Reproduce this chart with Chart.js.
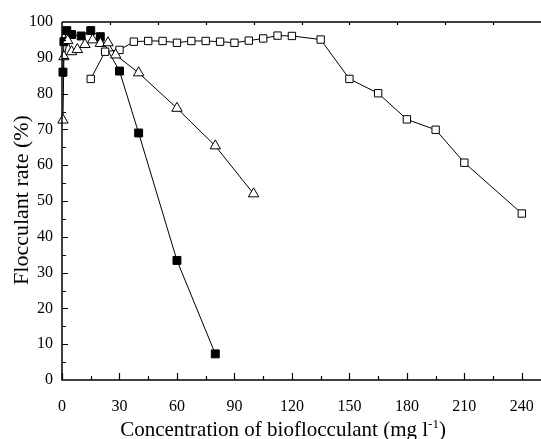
<!DOCTYPE html>
<html>
<head>
<meta charset="utf-8">
<script src="https://cdn.jsdelivr.net/npm/chart.js@4/dist/chart.umd.min.js"></script>
<style>
  html, body { margin: 0; padding: 0; background: #fff; }
  #wrap { width: 541px; height: 439px; }
</style>
</head>
<body>
<div id="wrap"><canvas id="chart"></canvas></div>
<script>
const xFilled = [0.5, 1, 2.5, 5, 10, 15, 20, 30, 40, 60, 80];
const yFilled = [86, 94.5, 97.6, 96.5, 96.1, 97.6, 95.9, 86.3, 69, 33.4, 7.3];

const xOpen = [15, 22.5, 30, 37.5, 45, 52.5, 60, 67.5, 75, 82.5, 90, 97.5, 105, 112.5, 120, 135, 150, 165, 180, 195, 210, 240];
const yOpen = [84.1, 91.7, 92.2, 94.5, 94.7, 94.7, 94.2, 94.7, 94.7, 94.5, 94.2, 94.8, 95.4, 96.2, 96.1, 95.1, 84.1, 80.1, 72.8, 69.9, 60.7, 46.5];

const xTri = [0.5, 1, 3, 5, 8, 12, 16, 20, 24, 28, 40, 60, 80, 100];
const yTri = [72.6, 90.3, 94.8, 91.7, 92.3, 93.7, 95, 94, 94.2, 90.8, 85.8, 75.9, 65.4, 52];

// 축 눈금
const xTicks = [0, 30, 60, 90, 120, 150, 180, 210, 240];
const yTicks = [0, 10, 20, 30, 40, 50, 60, 70, 80, 90, 100];

const SERIF = "'Liberation Serif', 'DejaVu Serif', serif";

function toPoints(xs, ys) {
    return xs.map((x, i) => ({ x: x, y: ys[i] }));
}

// 축선, 안쪽 눈금, 축 제목 그리기
const axesPlugin = {
    id: 'axesPlugin',
    afterDatasetsDraw(chart) {
        const ctx = chart.ctx;
        const xs = chart.scales.x, ys = chart.scales.y;
        const a = chart.chartArea;
        ctx.save();
        ctx.strokeStyle = '#000';
        ctx.lineWidth = 1.5;
        ctx.beginPath();
        ctx.moveTo(a.left, a.top);
        ctx.lineTo(a.right, a.top);
        ctx.moveTo(a.left, a.top);
        ctx.lineTo(a.left, a.bottom);
        ctx.lineTo(a.right, a.bottom);
        ctx.stroke();

        ctx.lineWidth = 1.2;
        ctx.beginPath();
        // 아래쪽 x 눈금 (15 간격, 30마다 긴 눈금)
        for (let v = 0; v <= 240; v += 15) {
            const px = Math.round(xs.getPixelForValue(v)) + 0.5;
            const len = (v % 30 === 0) ? 7 : 4;
            ctx.moveTo(px, a.bottom);
            ctx.lineTo(px, a.bottom - len);
        }
        // 위쪽 테두리 눈금 (25 간격)
        for (let v = 25; v < 250; v += 25) {
            const px = Math.round(xs.getPixelForValue(v)) + 0.5;
            ctx.moveTo(px, a.top);
            ctx.lineTo(px, a.top + 3);
        }
        // 왼쪽 y 눈금 (5 간격)
        for (let v = 5; v <= 95; v += 5) {
            const py = Math.round(ys.getPixelForValue(v)) + 0.5;
            const len = (v % 10 === 0) ? 6 : 4;
            ctx.moveTo(a.left, py);
            ctx.lineTo(a.left + len, py);
        }
        ctx.stroke();

        // y축 제목
        ctx.fillStyle = '#000';
        ctx.font = '22px ' + SERIF;
        ctx.textAlign = 'center';
        ctx.textBaseline = 'middle';
        ctx.save();
        ctx.translate(22, 200);
        ctx.rotate(-Math.PI / 2);
        ctx.fillText('Flocculant rate (%)', 0, 0);
        ctx.restore();

        // x축 제목 (위첨자 -1 포함)
        ctx.textBaseline = 'alphabetic';
        ctx.textAlign = 'left';
        const main = 'Concentration of bioflocculant (mg l';
        const sup = '-1';
        const tail = ')';
        ctx.font = '21px ' + SERIF;
        const wMain = ctx.measureText(main).width;
        const wTail = ctx.measureText(tail).width;
        ctx.font = '13px ' + SERIF;
        const wSup = ctx.measureText(sup).width;
        const total = wMain + wSup + wTail;
        let x0 = 283 - total / 2;
        const base = 436;
        ctx.font = '21px ' + SERIF;
        ctx.fillText(main, x0, base);
        ctx.font = '13px ' + SERIF;
        ctx.fillText(sup, x0 + wMain, base - 8);
        ctx.font = '21px ' + SERIF;
        ctx.fillText(tail, x0 + wMain + wSup, base);
        ctx.restore();
    }
};

const commonLine = {
    showLine: true,
    borderColor: '#000',
    borderWidth: 1,
    pointBorderColor: '#000',
    pointBorderWidth: 1,
    tension: 0,
    clip: false
};

const config = {
    type: 'scatter',
    data: {
        datasets: [
            Object.assign({
                label: 'filled',
                data: toPoints(xFilled, yFilled),
                pointStyle: 'rect',
                pointRadius: 5.6,
                pointBackgroundColor: '#000',
                order: 3
            }, commonLine),
            Object.assign({
                label: 'open square',
                data: toPoints(xOpen, yOpen),
                pointStyle: 'rect',
                pointRadius: 5.2,
                pointBackgroundColor: '#fff',
                order: 2
            }, commonLine),
            Object.assign({
                label: 'triangle',
                data: toPoints(xTri, yTri),
                pointStyle: 'triangle',
                pointRadius: 6,
                pointBackgroundColor: '#fff',
                order: 1
            }, commonLine)
        ]
    },
    options: {
        responsive: false,
        animation: false,
        devicePixelRatio: 1,
        layout: {
            autoPadding: false,
            padding: { top: 22, right: 0, left: 0, bottom: 0 }
        },
        plugins: {
            legend: { display: false },
            tooltip: { enabled: false }
        },
        scales: {
            x: {
                type: 'linear',
                min: 0,
                max: 250,
                grid: { display: false, drawTicks: false },
                border: { display: false },
                afterBuildTicks: (scale) => {
                    scale.ticks = xTicks.map(v => ({ value: v }));
                },
                afterFit: (scale) => {
                    scale.height = 59;
                    scale.paddingLeft = 0;
                    scale.paddingRight = 0;
                },
                ticks: {
                    autoSkip: false,
                    maxRotation: 0,
                    padding: 17,
                    color: '#000',
                    font: { family: SERIF, size: 16 }
                }
            },
            y: {
                type: 'linear',
                min: 0,
                max: 100,
                grid: { display: false, drawTicks: false },
                border: { display: false },
                afterBuildTicks: (scale) => {
                    scale.ticks = yTicks.map(v => ({ value: v }));
                },
                afterFit: (scale) => {
                    scale.width = 62;
                    scale.paddingTop = 0;
                    scale.paddingBottom = 0;
                },
                ticks: {
                    autoSkip: false,
                    padding: 9,
                    color: '#000',
                    font: { family: SERIF, size: 16 }
                }
            }
        }
    },
    plugins: [axesPlugin]
};

const canvas = document.getElementById('chart');
canvas.width = 541;
canvas.height = 439;
const floccChart = new Chart(canvas, config);
</script>
</body>
</html>
